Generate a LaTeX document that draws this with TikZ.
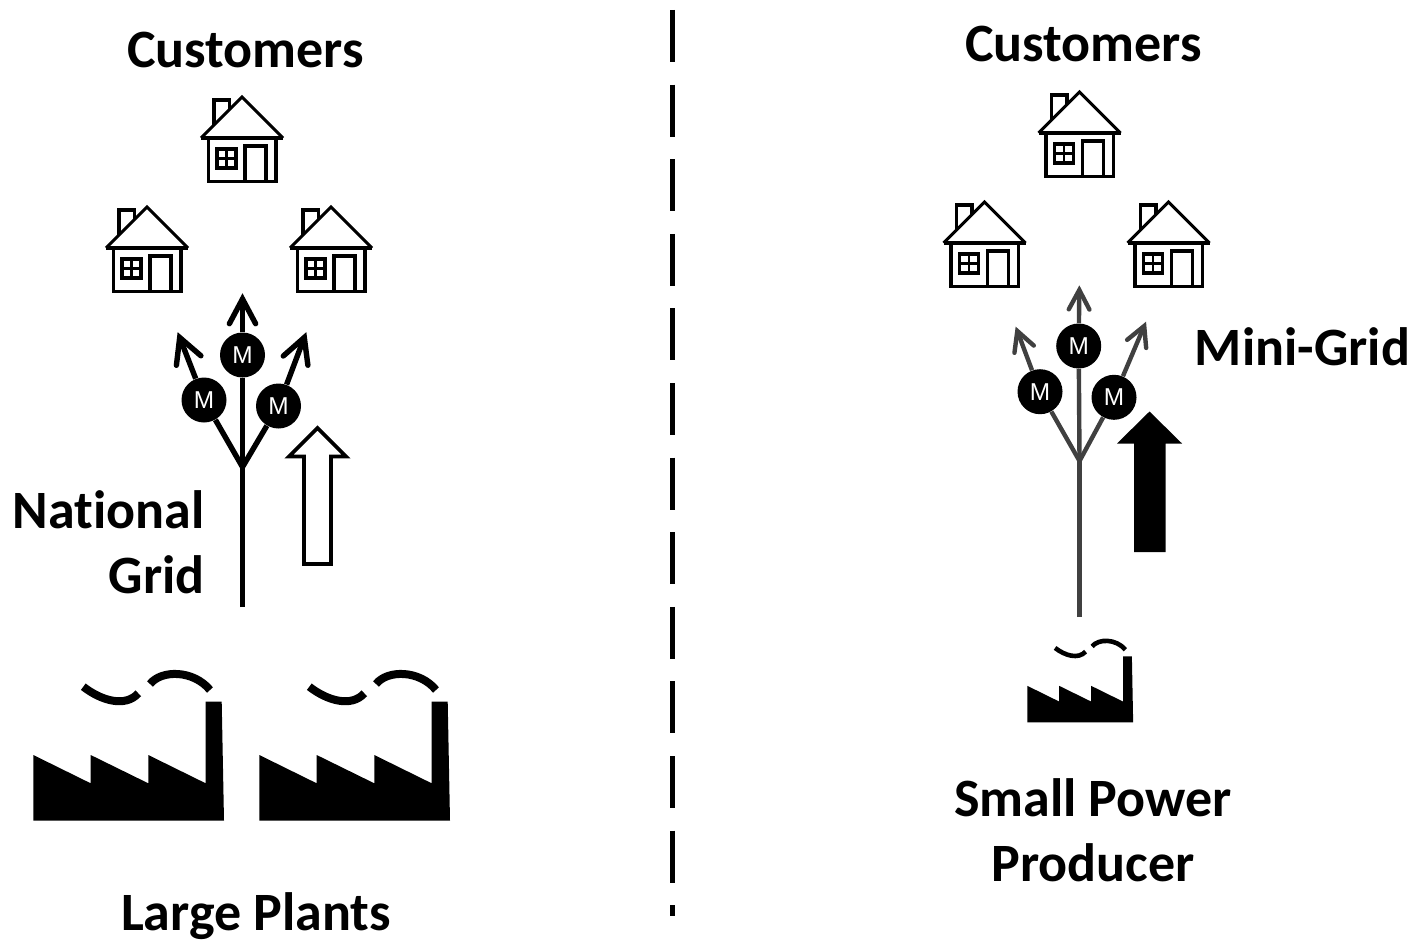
\documentclass[tikz,border=0pt]{standalone}
\usepackage{fontspec}
\setmainfont[Ligatures=CommonOff]{Carlito}
\newfontfamily\metfont{Liberation Sans}
\usetikzlibrary{calc}
\definecolor{gridgrey}{HTML}{404040}
\tikzset{
  lab/.style={font=\fontsize{27}{32.5}\selectfont\bfseries,inner sep=0pt,text=black},
  meter/.style={circle,fill=black,draw=none,minimum size=22.5pt,inner sep=0pt,text=white,font=\metfont\fontsize{12.2}{12}\selectfont},
  blackwire/.style={draw=black,line width=2.7pt},
  greywire/.style={draw=gridgrey,line width=2.2pt},
  houseline/.style={draw=black,line width=1.55pt,line join=miter},
  bigarrow/.style={draw=black,line width=1.9pt,line join=miter}
}
\newcommand{\myhouse}[2]{%
  \begin{scope}[shift={(#1,#2)}]
    \draw[houseline,fill=white] (-28,28) -- (-28,3) -- (-12.5,3) -- (-12.5,12.5);
    \draw[houseline] (-41,41) -- (0,0) -- (41,41);
    \draw[draw=black,line width=2.2pt] (-41,41) -- (41,41);
    \draw[houseline] (-33.5,41) -- (-33.5,84.5) -- (34,84.5) -- (34,41);
    \draw[houseline] (3,84.5) -- (3,49) -- (24,49) -- (24,84.5);
    \draw[houseline] (-25,52) rectangle (-6,71);
    \draw[draw=black,line width=1.2pt] (-15.5,52) -- (-15.5,71) (-25,61.5) -- (-6,61.5);
  \end{scope}}
\newcommand{\myfactory}[4]{%
  \begin{scope}[shift={(#1,#2)},scale=#3]
    \fill[black] (0,0) -- (0,-65.7) -- (57.4,-37.4) -- (57.4,-65.7) -- (115,-37.4) -- (115,-65.7)
      -- (172.4,-37.4) -- (172.4,-119) -- (188.4,-119) -- (190.7,0) -- cycle;
    \draw[black,line width=#4] (50,-134) .. controls (68,-120) and (92,-113) .. (105,-127.4);
    \draw[black,line width=#4] (116.7,-136.7) .. controls (128,-151) and (160,-151) .. (176.7,-130.7);
  \end{scope}}
% chevron arrow head: style, tip, point the shaft comes from, barb length
\newcommand{\mybarb}[4]{%
  \draw[#1,line cap=round,line join=miter,miter limit=10]
    ($(#2)!#4!28:(#3)$) -- (#2) -- ($(#2)!#4!-28:(#3)$);}
\begin{document}
\begin{tikzpicture}[x=0.5pt,y=-0.5pt]
\useasboundingbox (0,0) rectangle (1416,941);
% divider
\coordinate (divtop) at (672,10);
\coordinate (divbot) at (672,916);
\draw[black,line width=2.5pt,dash pattern=on 26pt off 11.3pt] (divtop) -- (divbot);
% labels
\node[lab,anchor=base] (custL) at (245.5,68) {Customers};
\node[lab,anchor=base] (custR) at (1083.5,62) {Customers};
\node[lab,align=right,anchor=east] (natgrid) at (205,542.5) {National\\Grid};
\node[lab,anchor=base] (large) at (256,930.5) {Large Plants};
\node[lab,anchor=base west] (mini) at (1194.5,365) {Mini-Grid};
\node[lab,align=center,anchor=center] (spp) at (1093,830.5) {Small Power\\Producer};
% houses
\myhouse{242}{97}
\myhouse{147}{207}
\myhouse{331}{207}
\myhouse{1079.5}{92}
\myhouse{984.5}{202}
\myhouse{1168.5}{202}
% left grid
\node[meter] (mTL) at (242.5,355) {M};
\node[meter] (mLL) at (204,400) {M};
\node[meter] (mRL) at (278.5,406) {M};
\coordinate (jL) at (242.5,467);
\coordinate (bL) at (242.5,607);
\coordinate (tTL) at (242.5,299);
\coordinate (tLL) at (179.7,337.5);
\coordinate (tRL) at (304.3,337.5);
\draw[blackwire] (bL) -- (jL);
\draw[blackwire] (jL) -- (mTL);
\draw[blackwire] (jL) -- (mLL);
\draw[blackwire] (jL) -- (mRL);
\draw[blackwire] (mTL) -- (tTL);
\draw[blackwire] (mLL) -- (tLL);
\draw[blackwire] (mRL) -- (tRL);
\mybarb{blackwire}{tTL}{mTL}{14pt}
\mybarb{blackwire}{tLL}{mLL}{14pt}
\mybarb{blackwire}{tRL}{mRL}{14pt}
% right grid
\node[meter] (mTR) at (1078.7,346) {M};
\node[meter] (mLR) at (1040,391.7) {M};
\node[meter] (mRR) at (1114,397.3) {M};
\coordinate (jR) at (1079.5,461);
\coordinate (bR) at (1079.5,617);
\coordinate (tTR) at (1079.3,290);
\coordinate (tLR) at (1017.3,331);
\coordinate (tRR) at (1144.2,326);
\draw[greywire] (bR) -- (jR);
\draw[greywire] (jR) -- (mTR);
\draw[greywire] (jR) -- (mLR);
\draw[greywire] (jR) -- (mRR);
\draw[greywire] (mTR) -- (tTR);
\draw[greywire] (mLR) -- (tLR);
\draw[greywire] (mRR) -- (tRR);
\mybarb{greywire}{tTR}{mTR}{11pt}
\mybarb{greywire}{tLR}{mLR}{11pt}
\mybarb{greywire}{tRR}{mRR}{11pt}
% big arrows
\draw[bigarrow,fill=white] (317.5,428) -- (346,456.5) -- (331,456.5) -- (331,564) -- (304,564) -- (304,456.5) -- (289,456.5) -- cycle;
\fill[black] (1149.5,411.5) -- (1182,443.5) -- (1165.7,443.5) -- (1165.7,552) -- (1134,552) -- (1134,443.5) -- (1117,443.5) -- cycle;
% factories
\myfactory{33.3}{820.7}{1}{4pt}
\myfactory{259.3}{820.7}{1}{4pt}
\myfactory{1027.3}{722.3}{0.555}{2.3pt}
\end{tikzpicture}
\end{document}
